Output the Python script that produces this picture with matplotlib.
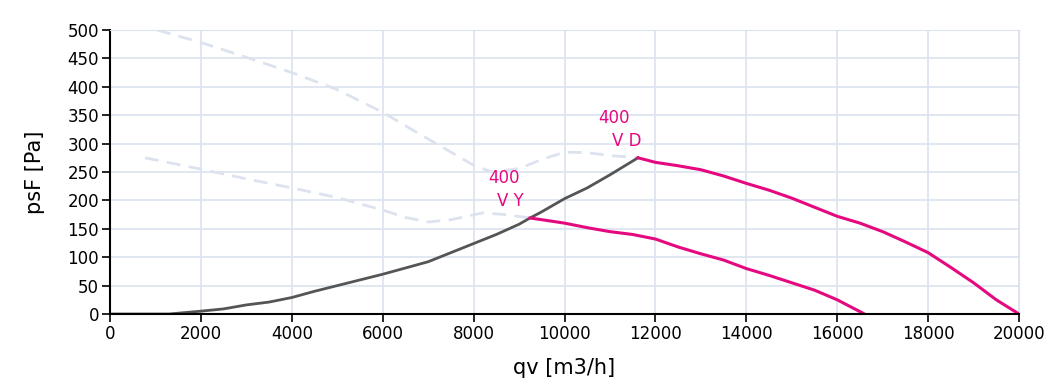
import matplotlib
matplotlib.use("Agg")
import matplotlib.pyplot as plt

# system curve (grey)
sys_q = [0, 1300, 2000, 2500, 3000, 3500, 4000, 4500, 5000, 5500, 6000, 6500, 7000, 7500, 8000,
         8500, 9000, 9241, 9500, 10000, 10500, 11000, 11617]
sys_p = [0, 0, 5, 9, 16, 21, 29, 40, 50, 60, 70, 81, 92, 108, 124,
         140, 158, 169, 180, 203, 222, 245, 275]

# 400 V Y
vy_q = [9241, 9500, 10000, 10500, 11000, 11500, 12000, 12500, 13000, 13500, 14000, 14500, 15000,
        15500, 16000, 16600]
vy_p = [169, 166, 160, 152, 145, 140, 132, 118, 106, 95, 80, 68, 55, 42, 25, 0]

# 400 V D
vd_q = [11617, 12000, 12500, 13000, 13500, 14000, 14500, 15000, 15500, 16000, 16500, 17000,
        17500, 18000, 18500, 19000, 19500, 20000]
vd_p = [275, 267, 261, 254, 243, 230, 218, 204, 188, 172, 160, 145, 127, 108, 82, 55, 25, 0]

# dashed limit curves
up_q = [1034, 2000, 3000, 4000, 5000, 6000, 7000, 8000, 8400, 9000, 9500, 10000, 10500, 11000, 11617]
up_p = [500, 478, 452, 425, 395, 355, 308, 262, 250, 256, 272, 285, 284, 279, 275]
lo_q = [770, 2000, 3000, 4000, 5000, 6000, 6500, 7000, 7500, 8200, 8700, 9241]
lo_p = [275, 255, 238, 222, 205, 183, 170, 162, 166, 178, 175, 169]

x_ticks = list(range(0, 20001, 2000))
y_ticks = list(range(0, 501, 50))

pink = "#e5097f"
grid_c = "#dce3ee"

fig = plt.figure(figsize=(10.57, 3.86), dpi=100)
ax = fig.add_axes([110 / 1057, 1 - 314 / 386, 909 / 1057, 284 / 386])

ax.plot(up_q, up_p, color=grid_c, lw=2, ls=(0, (5, 3)))
ax.plot(lo_q, lo_p, color=grid_c, lw=2, ls=(0, (5, 3)))
ax.plot(sys_q, sys_p, color="#555555", lw=2)
ax.plot(vy_q, vy_p, color=pink, lw=2.2)
ax.plot(vd_q, vd_p, color=pink, lw=2.2)

ax.annotate("400", (vy_q[0], vy_p[0]), xytext=(-19, 29), textcoords="offset points",
            color=pink, fontsize=12, ha="center", va="center")
ax.annotate("V Y", (vy_q[0], vy_p[0]), xytext=(-14, 12), textcoords="offset points",
            color=pink, fontsize=12, ha="center", va="center")
ax.annotate("400", (vd_q[0], vd_p[0]), xytext=(-17, 29), textcoords="offset points",
            color=pink, fontsize=12, ha="center", va="center")
ax.annotate("V D", (vd_q[0], vd_p[0]), xytext=(-8, 12), textcoords="offset points",
            color=pink, fontsize=12, ha="center", va="center")

ax.set_xlim(0, 20000)
ax.set_ylim(0, 500)
ax.set_xticks(x_ticks)
ax.set_yticks(y_ticks)
ax.grid(True, color=grid_c, lw=1.2)
ax.set_axisbelow(True)
for s in ["top", "right"]:
    ax.spines[s].set_color(grid_c)
for s in ["left", "bottom"]:
    ax.spines[s].set_color("black")
    ax.spines[s].set_linewidth(1.5)
ax.tick_params(length=6, width=1.2, labelsize=12, pad=2)
ax.set_xlabel("qv [m3/h]", fontsize=15, labelpad=11)
ax.set_ylabel("psF [Pa]", fontsize=15, labelpad=16)

fig.savefig("out.png", dpi=100)
